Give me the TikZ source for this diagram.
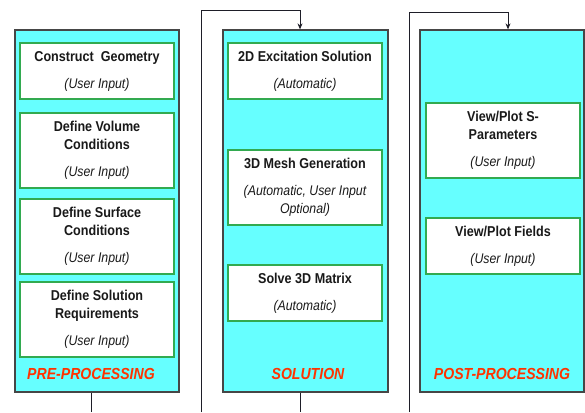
\documentclass[tikz,border=0pt]{standalone}
\usepackage{fontspec}
\setmainfont{Liberation Sans}[FakeStretch=0.88]
\usetikzlibrary{arrows.meta}
\definecolor{panelfill}{RGB}{102,255,255}
\definecolor{panelline}{RGB}{70,70,70}
\definecolor{boxline}{RGB}{50,170,80}
\definecolor{labelred}{RGB}{255,51,0}
\definecolor{conn}{RGB}{30,30,40}
\newcommand{\subtxt}{\fontsize{14}{18}\selectfont\mdseries\itshape}
\tikzset{
  panel/.style={draw=panelline, line width=1.3pt, fill=panelfill, minimum width=164pt, minimum height=362pt, inner sep=0pt},
  taskbox/.style={draw=boxline, line width=1.2pt, fill=white, minimum width=154pt, inner sep=0pt, align=center, font=\fontsize{14.3}{18}\selectfont\bfseries, text=black!90},
  phase/.style={font=\fontsize{16}{18}\selectfont\bfseries\itshape, text=labelred, inner sep=0pt},
  wire/.style={draw=conn, line width=0.8pt},
}
\begin{document}
\begin{tikzpicture}[x=1pt,y=-1pt]
\useasboundingbox (0,0) rectangle (585,412);
% panels
\node[panel] (p1) at (97,211) {};
\node[panel, minimum width=165pt] (p2) at (305.5,211) {};
\node[panel] (p3) at (502,211) {};
% pre-processing boxes
\node[taskbox, minimum height=56pt] (a1) at (97,71) {Construct~ Geometry\\[9pt]{\subtxt (User Input)}};
\node[taskbox, minimum height=75pt] (a2) at (97,150.5) {Define Volume\\Conditions\\[9pt]{\subtxt (User Input)}};
\node[taskbox, minimum height=75pt] (a3) at (97,236.5) {Define Surface\\Conditions\\[9pt]{\subtxt (User Input)}};
\node[taskbox, minimum height=75pt] (a4) at (97,319.5) {Define Solution\\Requirements\\[9pt]{\subtxt (User Input)}};
\node[phase] (l1) at (91,374) {PRE-PROCESSING};
% solution boxes
\node[taskbox, minimum height=56pt] (b1) at (305,71) {2D Excitation Solution\\[9pt]{\subtxt (Automatic)}};
\node[taskbox, minimum height=75pt] (b2) at (305,187.5) {3D Mesh Generation\\[9pt]{\subtxt (Automatic, User Input}\\{\subtxt Optional)}};
\node[taskbox, minimum height=56pt] (b3) at (305,293) {Solve 3D Matrix\\[9pt]{\subtxt (Automatic)}};
\node[phase] (l2) at (308,374) {SOLUTION};
% post-processing boxes
\node[taskbox, minimum height=75pt] (c1) at (503,140.5) {View/Plot S-\\Parameters\\[9pt]{\subtxt (User Input)}};
\node[taskbox, minimum height=56pt] (c2) at (503,246) {View/Plot Fields\\[9pt]{\subtxt (User Input)}};
\node[phase] (l3) at (502,374) {POST-PROCESSING};
% connectors
\coordinate (e1) at (91,412);
\coordinate (e2) at (300,412);
\coordinate (s2) at (201,412);
\coordinate (t2) at (201,10);
\coordinate (u2) at (300,10);
\coordinate (s3) at (409,412);
\coordinate (t3) at (409,12);
\coordinate (u3) at (508,12);
\draw[wire] (e1 |- p1.south) -- (e1);
\draw[wire] (e2 |- p2.south) -- (e2);
\draw[wire, -{Stealth[length=6pt,width=5pt]}] (s2) -- (t2) -- (u2) -- (u2 |- p2.north);
\draw[wire, -{Stealth[length=6pt,width=5pt]}] (s3) -- (t3) -- (u3) -- (u3 |- p3.north);
\end{tikzpicture}
\end{document}
